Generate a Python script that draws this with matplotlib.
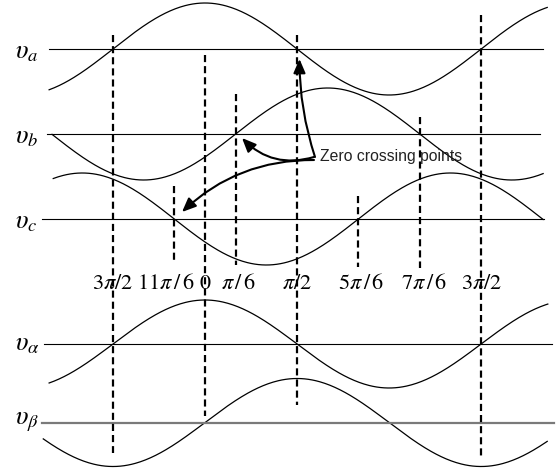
import numpy as np
from matplotlib import pyplot as plt
from matplotlib.patches import FancyArrowPatch

plt.rcParams['mathtext.fontset'] = 'stix'

# three-phase voltages va, vb, vc (cosines with these phase shifts)
abc_names = ['a', 'b', 'c']
abc_shift = [0.0, -2 * np.pi / 3, 2 * np.pi / 3]
abc_curve_span = [(-2.66, 5.84), (-2.61, 5.77), (-2.59, 5.77)]
abc_axis_span = [(-2.66, 5.77), (-2.70, 5.72), (-2.79, 5.78)]

# stationary frame voltages v_alpha (cos) and v_beta (sin)
ab_names = [r'\alpha', r'\beta']
ab_shift = [0.0, -np.pi / 2]
ab_curve_span = [(-2.66, 5.85), (-2.76, 5.84)]
ab_axis_span = [(-2.75, 5.92), (-2.78, 5.96)]

# zero crossing angles and their labels
cross_angles = [-np.pi / 2, -np.pi / 6, 0, np.pi / 6, np.pi / 2,
                5 * np.pi / 6, 7 * np.pi / 6, 3 * np.pi / 2]
cross_labels = [r'$3\pi/2$', r'$11\pi\,/\,6$', r'$0$', r'$\pi\,/\,6$',
                r'$\pi/2$', r'$5\pi\,/\,6$', r'$7\pi\,/\,6$', r'$3\pi/2$']

# layout (pixel rows)
px_per_rad = 58.6
x0 = 205
rows_abc = [49, 134, 219]
rows_ab = [344, 422.5]
amp_abc = 46
amp_ab = 44
dash_top = [35, 186, 55, 94, 35, 196, 117, 15]
dash_bottom = [453, 261, 416, 265, 405, 267, 268, 456]
label_shift = [0, -0.14, 0, 0.05, 0, 0.05, 0.08, 0]
label_row = 283


def px(x):
    return (x - x0) / px_per_rad


fig = plt.figure(figsize=(5.56, 4.71), dpi=100)
ax = fig.add_axes([0, 0, 1, 1])
ax.set_xlim(px(0), px(556))
ax.set_ylim(471, 0)
ax.axis('off')

for name, shift, (t0, t1), (a0, a1), row in zip(abc_names, abc_shift, abc_curve_span,
                                                abc_axis_span, rows_abc):
    th = np.linspace(t0, t1, 400)
    ax.plot(th, row - amp_abc * np.cos(th + shift), color='black', lw=0.9)
    ax.plot([a0, a1], [row, row], color='black', lw=0.8)
    ax.text(px(15), row + 2, r'$\upsilon_%s$' % name, fontsize=19, va='center', ha='left')

for i, (name, shift, (t0, t1), (a0, a1), row) in enumerate(zip(ab_names, ab_shift, ab_curve_span,
                                                              ab_axis_span, rows_ab)):
    th = np.linspace(t0, t1, 400)
    ax.plot(th, row - amp_ab * np.cos(th + shift), color='black', lw=0.9)
    if i == 0:
        ax.plot([a0, a1], [row, row], color='black', lw=0.8)
    else:
        ax.plot([a0, a1], [row, row], color='#7a7a7a', lw=1.6)
    ax.text(px(15), row - 1, r'$\upsilon_%s$' % name, fontsize=19, va='center', ha='left')

for ang, top, bot, lab, dx in zip(cross_angles, dash_top, dash_bottom, cross_labels, label_shift):
    ax.plot([ang, ang], [top, bot], color='black', lw=1.6, linestyle=(0, (3.2, 1.8)))
    ax.text(ang + dx, label_row, lab, fontsize=16, ha='center', va='center')

ax.text(px(320), 157, 'Zero crossing points', fontsize=11.3, va='center', ha='left',
        family='Liberation Sans', color='#222222')

arrows = [((315, 157), (299.5, 59), -0.08),
          ((314, 157), (242, 138), -0.3),
          ((314, 160), (182, 212), 0.2)]
for (sx, sy), (ex, ey), rad in arrows:
    ax.add_patch(FancyArrowPatch((px(sx), sy), (px(ex), ey),
                                 connectionstyle='arc3,rad=%s' % rad,
                                 arrowstyle='-|>,head_length=0.7,head_width=0.3',
                                 mutation_scale=12, lw=1.5, color='black',
                                 shrinkA=0, shrinkB=0))

fig.savefig('out.png', dpi=100)
